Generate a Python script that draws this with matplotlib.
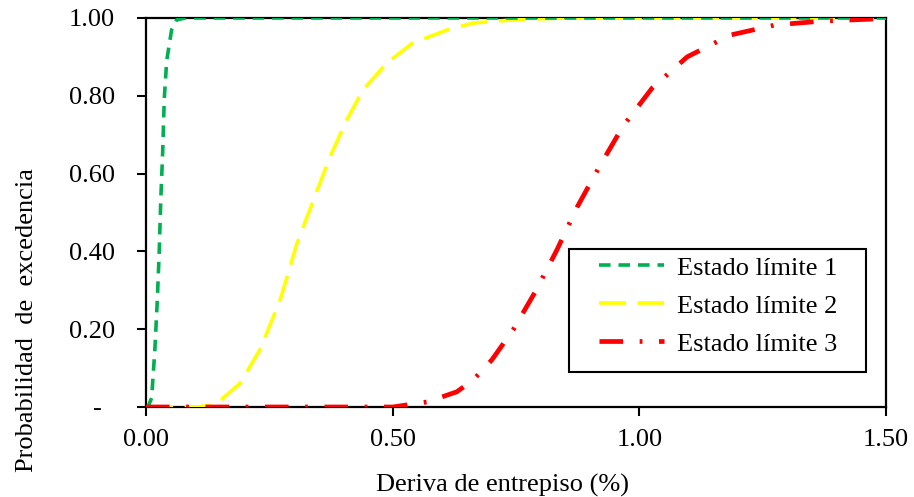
import matplotlib
matplotlib.use("Agg")
import matplotlib.pyplot as plt
from matplotlib.patches import Rectangle
from matplotlib.ticker import FixedLocator, FuncFormatter

plt.rcParams['font.family'] = ['Liberation Serif', 'DejaVu Serif']

# Fragility curves: probability of exceedance vs interstory drift (%)
drift_el1 = [0.0, 0.004, 0.0115, 0.018, 0.023, 0.027, 0.030, 0.034, 0.037, 0.042, 0.052, 0.062, 0.08, 1.50]
prob_el1 = [0.0, 0.0, 0.023, 0.147, 0.275, 0.404, 0.532, 0.66, 0.79, 0.89, 0.97, 0.995, 1.0, 1.0]

drift_el2 = [0.0, 0.10, 0.14, 0.19, 0.231, 0.272, 0.306, 0.339, 0.373, 0.407, 0.44, 0.488,
             0.541, 0.61, 0.663, 0.75, 0.85, 1.50]
prob_el2 = [0.0, 0.0, 0.005, 0.06, 0.147, 0.275, 0.42, 0.53, 0.643, 0.738, 0.815, 0.884,
            0.936, 0.969, 0.987, 0.996, 1.0, 1.0]

drift_el3 = [0.0, 0.50, 0.57, 0.63, 0.663, 0.701, 0.744, 0.789, 0.833, 0.874, 0.92, 0.967,
             1.026, 1.097, 1.184, 1.275, 1.37, 1.468, 1.50]
prob_el3 = [0.0, 0.0, 0.013, 0.039, 0.069, 0.121, 0.198, 0.296, 0.404, 0.514, 0.62, 0.722,
            0.82, 0.90, 0.956, 0.982, 0.992, 0.997, 1.0]

labels = ["Estado límite 1", "Estado límite 2", "Estado límite 3"]
x_ticks = [0.0, 0.5, 1.0, 1.5]
y_ticks = [0.0, 0.2, 0.4, 0.6, 0.8, 1.0]

FS = 19

fig = plt.figure(figsize=(9.14, 4.97), dpi=100)
ax = fig.add_axes([0.1597, 0.1811, 0.8097, 0.7827])

ax.plot(drift_el1, prob_el1, color="#00B050", lw=2.6, dashes=(3.2, 2.2),
        label=labels[0], zorder=4)
ax.plot(drift_el2, prob_el2, color="#FFFF00", lw=2.6, dashes=(7.5, 3.2),
        label=labels[1], zorder=3)
ax.plot(drift_el3, prob_el3, color="#FF0000", lw=3.4, dashes=(5.0, 3.5, 0.6, 3.5),
        label=labels[2], zorder=5)

ax.set_xlim(0, 1.5)
ax.set_ylim(0, 1.0)
ax.xaxis.set_major_locator(FixedLocator(x_ticks))
ax.yaxis.set_major_locator(FixedLocator(y_ticks))
ax.xaxis.set_major_formatter(FuncFormatter(lambda v, p: f"{v:.2f}"))
ax.yaxis.set_major_formatter(FuncFormatter(lambda v, p: "-\u2007" if abs(v) < 1e-9 else f"{v:.2f}"))
ax.tick_params(axis="both", direction="out", length=6.5, width=1.5, labelsize=FS)
ax.tick_params(axis="x", pad=9)
ax.tick_params(axis="y", pad=16)

for s in ax.spines.values():
    s.set_linewidth(1.6)
    s.set_zorder(2)

ax.set_xlabel("Deriva de entrepiso (%)", fontsize=FS, labelpad=17)
ax.set_ylabel("Probabilidad  de  excedencia", fontsize=FS, labelpad=22)
ax.xaxis.label.set_x(0.4818)
ax.yaxis.label.set_y(0.224)

# legend box drawn separately so the inner padding can differ per side
ax.add_patch(Rectangle((0.5716, 0.09), 0.4014, 0.316, transform=ax.transAxes,
                       facecolor="white", edgecolor="black", lw=1.5, zorder=6))
leg = ax.legend(loc="upper left", bbox_to_anchor=(0.612, 0.388), fontsize=FS,
                frameon=False, handlelength=2.45, handletextpad=0.5, borderpad=0,
                labelspacing=0.55, borderaxespad=0)
leg.set_zorder(7)

fig.savefig("out.png", dpi=100)
